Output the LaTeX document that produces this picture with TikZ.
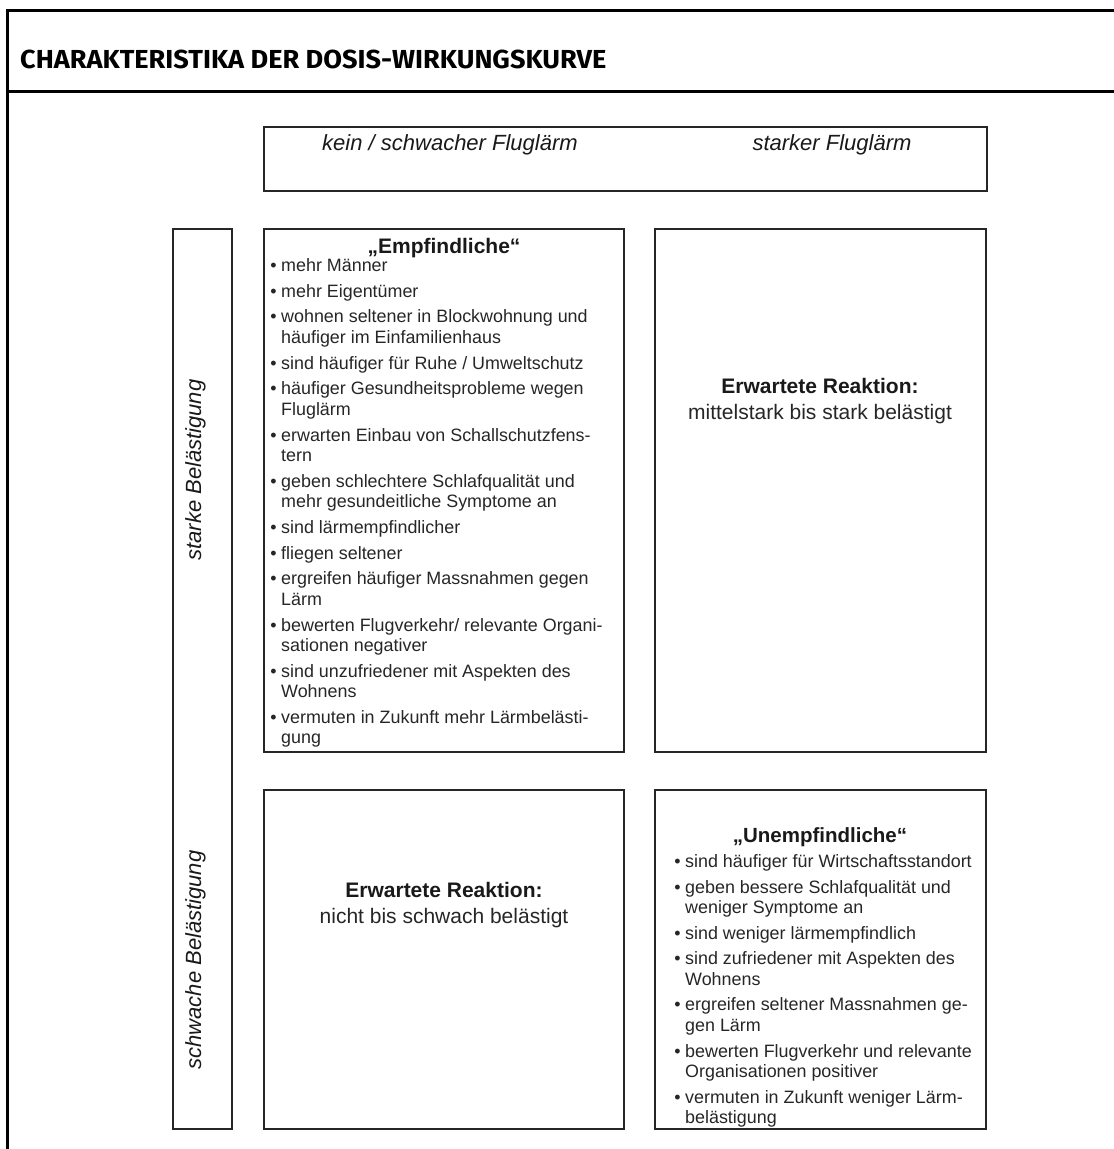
\documentclass[tikz,border=0pt]{standalone}
\usepackage{fontspec}
\setmainfont{Liberation Sans}
\newfontfamily\titlefont{Fira Sans}
\tikzset{
  frame/.style={line width=3pt, black},
  cell/.style={draw=black!85, line width=1.7pt, inner sep=0pt, outer sep=0pt, anchor=north west},
  li/.style={anchor=base west, inner sep=0pt, text=black!85, font=\fontsize{17.9}{20}\selectfont},
  bul/.style={anchor=base, inner sep=0pt, text=black!85, font=\fontsize{17.9}{20}\selectfont},
  hd/.style={anchor=base, inner sep=0pt, text=black!90, font=\fontsize{21}{24}\selectfont\bfseries},
  sub/.style={anchor=base, inner sep=0pt, text=black!85, font=\fontsize{21}{24}\selectfont},
  ital/.style={anchor=base, inner sep=0pt, text=black!90, font=\fontsize{22}{24}\selectfont\itshape},
}
\newcommand\bitem[4]{\node[bul] (#1b) at (#2-7.5,#3) {•};\node[li] (#1) at (#2,#3) {#4};}
\newcommand\citem[4]{\node[li] (#1) at (#2,#3) {#4};}
\begin{document}
\begin{tikzpicture}[x=1pt,y=-1pt]
\useasboundingbox (0,0) rectangle (1114,1149);
% outer frame
\draw[frame] (1114,10.5) -- (7.5,10.5) -- (7.5,1149);
\draw[frame] (7.5,91) -- (1114,91);
\node[anchor=base west, inner sep=0pt] (title) at (20,68)
  {\resizebox{586pt}{18.5pt}{\titlefont\bfseries CHARAKTERISTIKA DER DOSIS-WIRKUNGSKURVE}};
% boxes
\node[cell, minimum width=723pt, minimum height=64pt] (tb) at (264,127) {};
\node[cell, minimum width=59pt, minimum height=900pt] (lb) at (173,229) {};
\node[cell, minimum width=360pt, minimum height=523pt] (eb) at (264,229) {};
\node[cell, minimum width=331pt, minimum height=523pt] (rb) at (655,229) {};
\node[cell, minimum width=360pt, minimum height=339pt] (nb) at (264,790) {};
\node[cell, minimum width=331pt, minimum height=339pt] (ub) at (655,790) {};
% header texts
\node[ital] (h1) at (450,150) {kein / schwacher Fluglärm};
\node[ital] (h2) at (832,150) {starker Fluglärm};
\node[ital, rotate=90] (l1) at (201,470) {starke Belästigung};
\node[ital, rotate=90] (l2) at (201,960) {schwache Belästigung};
% expected reactions
\node[hd] (r1a) at (820,393) {Erwartete Reaktion:};
\node[sub] (r1b) at (820,419) {mittelstark bis stark belästigt};
\node[hd] (r2a) at (444,897) {Erwartete Reaktion:};
\node[sub] (r2b) at (444,923) {nicht bis schwach belästigt};
% Empfindliche
\node[hd] (et) at (444,253) {„Empfindliche“};
\bitem{e1}{281}{271.5}{mehr Männer}
\bitem{e2}{281}{297.2}{mehr Eigentümer}
\bitem{e3}{281}{322.9}{wohnen seltener in Blockwohnung und}
\citem{e4}{281}{343.4}{häufiger im Einfamilienhaus}
\bitem{e5}{281}{369.1}{sind häufiger für Ruhe / Umweltschutz}
\bitem{e6}{281}{394.8}{häufiger Gesundheitsprobleme wegen}
\citem{e7}{281}{415.3}{Fluglärm}
\bitem{e8}{281}{441}{erwarten Einbau von Schallschutzfens-}
\citem{e9}{281}{461.5}{tern}
\bitem{e10}{281}{487.2}{geben schlechtere Schlafqualität und}
\citem{e11}{281}{507.7}{mehr gesundeitliche Symptome an}
\bitem{e12}{281}{533.4}{sind lärmempfindlicher}
\bitem{e13}{281}{559.1}{fliegen seltener}
\bitem{e14}{281}{584.8}{ergreifen häufiger Massnahmen gegen}
\citem{e15}{281}{605.3}{Lärm}
\bitem{e16}{281}{631}{bewerten Flugverkehr/ relevante Organi-}
\citem{e17}{281}{651.5}{sationen negativer}
\bitem{e18}{281}{677.2}{sind unzufriedener mit Aspekten des}
\citem{e19}{281}{697.7}{Wohnens}
\bitem{e20}{281}{723.4}{vermuten in Zukunft mehr Lärmbelästi-}
\citem{e21}{281}{743.9}{gung}
% Unempfindliche
\node[hd, font=\fontsize{20.5}{24}\selectfont\bfseries] (ut) at (820,842) {„Unempfindliche“};
\bitem{u1}{685}{867.5}{sind häufiger für Wirtschaftsstandort}
\bitem{u2}{685}{893.1}{geben bessere Schlafqualität und}
\citem{u3}{685}{913.6}{weniger Symptome an}
\bitem{u4}{685}{939.2}{sind weniger lärmempfindlich}
\bitem{u5}{685}{964.8}{sind zufriedener mit Aspekten des}
\citem{u6}{685}{985.3}{Wohnens}
\bitem{u7}{685}{1010.9}{ergreifen seltener Massnahmen ge-}
\citem{u8}{685}{1031.4}{gen Lärm}
\bitem{u9}{685}{1057}{bewerten Flugverkehr und relevante}
\citem{u10}{685}{1077.5}{Organisationen positiver}
\bitem{u11}{685}{1103.1}{vermuten in Zukunft weniger Lärm-}
\citem{u12}{685}{1123.6}{belästigung}
\end{tikzpicture}
\end{document}
